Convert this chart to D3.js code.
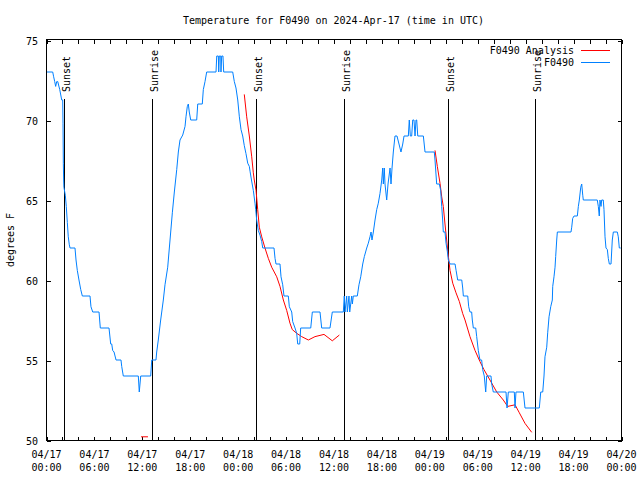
<!DOCTYPE html>
<html><head><meta charset="utf-8">
<script src="https://cdn.jsdelivr.net/npm/d3@7"></script>
<style>
body{margin:0;background:#fff}
svg text{font-family:"DejaVu Sans Mono",monospace;font-size:10px;fill:#000}
</style>
</head><body>
<svg id="c" width="640" height="480"></svg>
<script>
// ---- data (hours since 2024-04-17 00:00 UTC, degrees F) ----
const titleText = "Temperature for F0490 on 2024-Apr-17 (time in UTC)";
const yLabel = "degrees F";
const yTicks = [50, 55, 60, 65, 70, 75];
const xMajorHours = [0, 6, 12, 18, 24, 30, 36, 42, 48, 54, 60, 66, 72];
const sunHours = [2.25, 13.31, 26.30, 37.32, 50.38, 61.27];
const sunLabels = ["Sunset", "Sunrise", "Sunset", "Sunrise", "Sunset", "Sunrise"];
const seriesNames = ["F0490 Analysis", "F0490"];

const f0490 = [
 [0,73],[0.84,73],[0.96,72.7],[1.09,72.4],[1.21,72.1],[1.34,72.4],[1.47,72.4],[1.72,71.9],[1.97,71.25],[2.09,71.25],
 [2.13,69.8],[2.17,67.3],[2.21,66.25],[2.24,65.8],[2.42,65.3],[2.54,64.6],[2.67,63.6],[2.79,62.7],[2.92,62.2],[3.01,62],
 [3.63,62],[3.76,61.25],[3.92,60.6],[4.13,60],[4.35,59.4],[4.55,59],[5.51,59],[5.63,58.33],[5.85,58],[6.64,58],
 [6.80,57],[7.89,57],[8.10,56],[8.23,56],[8.35,55.6],[8.52,55.5],[8.77,55],[9.39,55],[9.48,54.6],[9.68,54],
 [11.56,54],[11.68,53],[11.86,54],[13.11,54],[13.24,55],[13.77,55],[13.86,55.5],[14.06,56.25],[14.36,57.5],[14.69,58.75],
 [14.90,59.7],[15.24,60.8],[15.53,62.5],[15.82,64.2],[16.07,65.5],[16.37,66.9],[16.57,68],[16.78,68.75],[17.12,69.06],[17.41,69.6],
 [17.53,70.2],[17.69,70.83],[17.82,71],[17.94,70.5],[18.12,70],[18.87,70],[19.00,71],[19.57,71],[19.70,71.9],[19.91,72.4],
 [20.12,73],[21.29,73],[21.38,74],[21.58,74],[21.63,73],[21.70,74],[21.88,74],[21.91,73],[22.00,74],[22.16,74],
 [22.25,73],[23.38,73],[23.58,72.4],[23.79,72],[24.01,71.25],[24.21,70.2],[24.42,69.4],[24.63,69],[24.83,68.4],[25.04,67.9],
 [25.26,67.3],[25.46,67.1],[25.55,66.8],[25.73,66.25],[25.96,65.6],[26.17,64.8],[26.26,64.4],[26.38,63.75],[26.58,63.1],[26.80,62.8],
 [27.01,62.4],[27.14,62],[28.55,62],[28.68,61.35],[28.80,61],[29.30,61],[29.43,60.2],[29.64,59.7],[29.80,59],[30.34,59],
 [30.47,58.33],[30.77,58],[30.89,57.4],[31.18,57],[31.39,56.67],[31.52,56],[31.77,56],[31.89,57],[33.15,57],[33.35,58],
 [34.31,58],[34.52,57],[35.56,57],[35.85,58],[37.23,58],[37.35,59],[37.44,58],[37.65,59],[37.73,58],[37.94,59],
 [38.03,58],[38.28,59],[38.36,58.5],[38.48,59],[38.98,59],[39.19,59.7],[39.41,60.2],[39.66,61],[39.86,61.46],[40.16,62],
 [40.36,62.3],[40.57,62.7],[40.70,63],[40.82,62.5],[40.99,63],[41.20,63.75],[41.41,64.4],[41.61,64.8],[41.82,65.4],[42.04,66.25],
 [42.16,67],[42.24,66],[42.36,67],[42.45,66],[42.66,65],[42.83,66],[43.08,67],[43.20,66],[43.33,67],[43.49,68],
 [43.70,69],[43.95,69],[44.20,68.5],[44.45,68],[44.67,68.5],[44.83,69],[45.37,69],[45.49,70],[45.62,69],[45.79,69],
 [45.92,70],[46.08,70],[46.21,69],[46.33,70],[46.42,70],[46.55,69],[47.25,69],[47.46,68],[48.62,68],[48.71,67.5],
 [48.92,66],[49.25,66],[49.42,65.6],[49.55,64.6],[49.67,63.75],[49.75,63],[49.96,63],[50.09,62.3],[50.25,61.8],[50.38,61.25],
 [50.59,61],[51.22,61],[51.35,60.6],[51.55,60],[52.06,60],[52.18,59.5],[52.26,59],[52.81,59],[52.93,58.33],[53.09,58],
 [53.30,58],[53.38,57.5],[53.51,57],[53.81,57],[53.93,56.46],[54.13,55.6],[54.34,55],[54.55,55],[54.68,54.4],[54.88,54],
 [55.06,53],[55.18,54],[55.72,54],[55.81,53.5],[56.01,53],[57.60,53],[57.73,52],[57.89,53],[58.64,53],[58.73,52],
 [58.85,53],[59.77,53],[59.98,52],[61.77,52],[61.95,53],[62.20,53],[62.36,54],[62.48,55.2],[62.70,55.8],[62.82,56.7],
 [62.99,57.7],[63.20,58.33],[63.40,58.75],[63.45,59.6],[63.61,60.2],[63.74,60.8],[63.82,61.46],[63.95,62.5],[64.03,63],[65.74,63],
 [65.83,63.3],[65.95,63.85],[66.12,64],[66.53,64],[66.66,64.6],[66.78,65],[66.96,65.8],[67.08,66],[67.21,65.3],[67.28,65],
 [69.03,65],[69.16,64.6],[69.28,64],[69.37,65],[69.50,64.6],[69.58,65],[69.78,65],[69.87,64.4],[70.00,62.7],[70.12,62],
 [70.29,61.9],[70.41,61.35],[70.54,61],[70.75,61],[70.91,62.5],[71.04,63],[71.54,63],[71.66,62.7],[71.79,62],[71.96,62]
];

const analysisDay1 = [[11.90,50.2],[12.77,50.2]];
const analysisDay2 = [
 [24.83,71.6],[25.13,70.2],[25.46,69.0],[25.76,67.7],[25.96,66.7],[26.08,66.25],[26.30,65.6],[26.51,64.4],[26.71,63.3],[27.01,62.7],
 [27.42,62.0],[27.84,61.35],[28.26,60.8],[28.89,60.2],[29.30,59.6],[29.72,58.75],[30.14,58.1],[30.55,57.3],[30.84,56.9],[31.39,56.67],
 [32.02,56.46],[32.85,56.25],[33.68,56.46],[34.81,56.6],[35.85,56.2],[36.73,56.56]
];
const analysisDay3 = [
 [48.71,68.1],[49.00,67.1],[49.34,66.04],[49.55,65.2],[49.75,64.6],[49.96,63.5],[50.17,62.5],[50.38,61.5],[50.59,60.6],[50.93,59.8],
 [51.34,59.2],[51.76,58.65],[52.18,57.9],[52.47,57.5],[53.09,56.46],[53.72,55.6],[54.34,54.9],[54.84,54.4],[55.59,53.75],[56.44,53.0],
 [57.26,52.5],[57.81,52.1],[58.73,52.2],[59.27,51.7],[59.98,51.04],[60.82,50.48]
];

// ---- drawing ----
const base = Date.UTC(2024, 3, 17, 0, 0);
const toDate = h => new Date(base + h * 3600e3);
const L = 46, R = 621, T = 40, B = 440;
const svg = d3.select("#c");
const x = d3.scaleUtc().domain([toDate(0), toDate(72)]).range([L, R]);
const y = d3.scaleLinear().domain([50, 75]).range([B, T]);
const blue = "#0080ff", red = "#ff0000";

// title
svg.append("text").attr("x", 333.5).attr("y", 24).attr("text-anchor", "middle").text(titleText);
// y label
svg.append("text").attr("transform", "translate(14,240) rotate(-90)").attr("text-anchor", "middle").text(yLabel);

// minor ticks every 2h, bottom & top
const minorDates = d3.range(0, 73, 2).map(toDate);
const gb = svg.append("g").attr("transform", `translate(0.5,${B + 0.5})`)
  .call(d3.axisBottom(x).tickValues(minorDates).tickSizeInner(-4).tickSizeOuter(0).tickFormat(""));
const gt = svg.append("g").attr("transform", `translate(0.5,${T - 0.5})`)
  .call(d3.axisTop(x).tickValues(minorDates).tickSizeInner(-4).tickSizeOuter(0).tickFormat(""));
const gl = svg.append("g").attr("transform", `translate(${L + 0.5},0.5)`)
  .call(d3.axisLeft(y).tickValues(yTicks).tickSizeInner(-4).tickSizeOuter(0).tickPadding(11).tickFormat(d3.format("d")));
const gr = svg.append("g").attr("transform", `translate(${R + 0.5},0.5)`)
  .call(d3.axisRight(y).tickValues(yTicks).tickSizeInner(-4).tickSizeOuter(0).tickFormat(""));
[gb, gt, gl, gr].forEach(g => {
  g.select(".domain").remove();
  g.selectAll("line").attr("stroke", "#000").attr("shape-rendering", "crispEdges");
  g.selectAll("text").attr("font-family", null).attr("font-size", null);
});
gl.selectAll("text").attr("dy", "0.36em").attr("x", -8.5);

// x labels, two lines
const fmtD = d3.utcFormat("%m/%d"), fmtT = d3.utcFormat("%H:%M");
const xl = svg.append("g");
xMajorHours.forEach(h => {
  const d = toDate(h);
  const t = xl.append("text").attr("text-anchor", "middle").attr("x", x(d) + 0.5);
  t.append("tspan").attr("x", x(d) + 0.5).attr("y", 458).text(fmtD(d));
  t.append("tspan").attr("x", x(d) + 0.5).attr("y", 470.5).text(fmtT(d));
});

// sunrise / sunset markers
sunHours.forEach((h, i) => {
  const px = Math.round(x(toDate(h))) + 0.5;
  svg.append("line").attr("x1", px).attr("x2", px).attr("y1", 99).attr("y2", B)
    .attr("stroke", "#000").attr("stroke-width", 1).attr("shape-rendering", "crispEdges");
  svg.append("text").attr("transform", `translate(${px + 5},92) rotate(-90)`).text(sunLabels[i]);
});

// series
const line = d3.line().x(d => x(toDate(d[0]))).y(d => y(d[1]));
[analysisDay1, analysisDay2, analysisDay3].forEach(s => {
  svg.append("path").datum(s).attr("d", line).attr("fill", "none")
    .attr("stroke", red).attr("stroke-width", 1);
});
svg.append("path").datum(f0490).attr("d", line).attr("fill", "none")
  .attr("stroke", blue).attr("stroke-width", 1);

// frame
svg.append("rect").attr("x", L + 0.5).attr("y", T - 0.5).attr("width", R - L).attr("height", B - T + 1)
  .attr("fill", "none").attr("stroke", "#000").attr("shape-rendering", "crispEdges");

// legend
const legColors = [red, blue];
seriesNames.forEach((n, i) => {
  const yy = 50 + i * 12;
  svg.append("text").attr("x", 574).attr("y", yy + 4).attr("text-anchor", "end").text(n);
  svg.append("line").attr("x1", 581).attr("x2", 610).attr("y1", yy + 0.5).attr("y2", yy + 0.5)
    .attr("stroke", legColors[i]).attr("stroke-width", 1).attr("shape-rendering", "crispEdges");
});
</script>
</body></html>
